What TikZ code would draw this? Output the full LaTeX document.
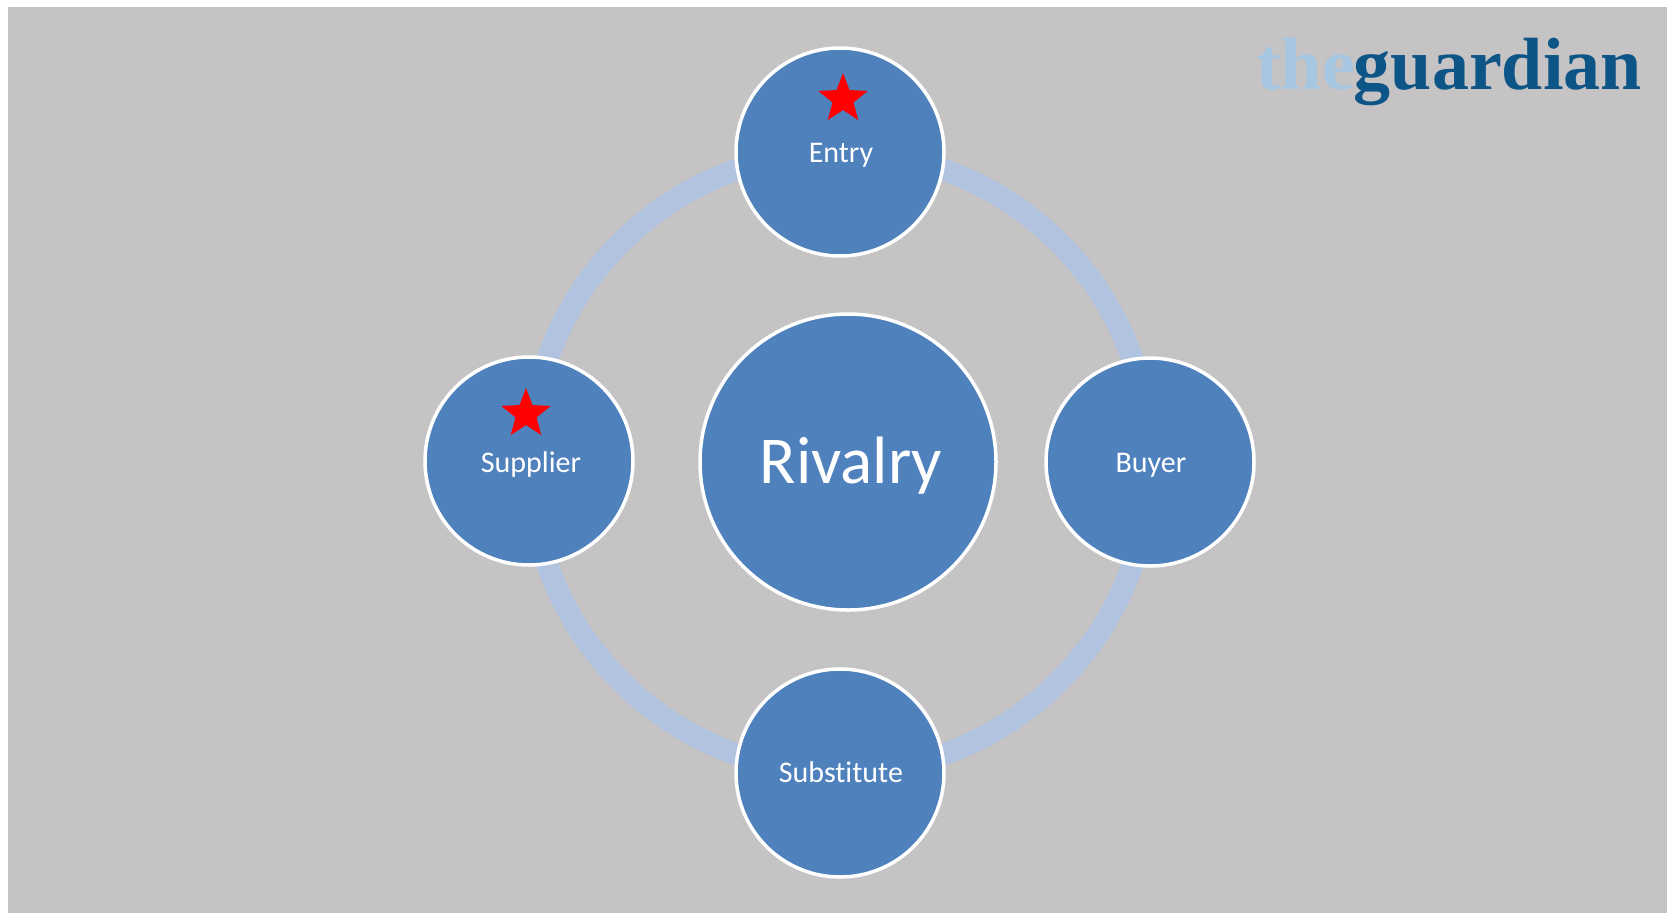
\documentclass[tikz,border=0pt]{standalone}
\usepackage{fontspec}
\setmainfont{Carlito}[Ligatures={NoCommon}, Contextuals={NoAlternate}]
\newfontfamily\logofont{Liberation Serif}
\usetikzlibrary{shapes.geometric}
\definecolor{bggray}{HTML}{C5C3C4}
\definecolor{ballblue}{HTML}{4F81BD}
\definecolor{ringblue}{HTML}{B1C3DE}
\definecolor{thelight}{HTML}{A6C6E1}
\definecolor{gdark}{HTML}{0D5587}
\tikzset{
  ball/.style={circle, fill=ballblue, draw=white, line width=3.5pt, inner sep=0pt, minimum size=#1},
  lbl/.style={text=white, font=\fontsize{30}{30}\selectfont, anchor=base, inner sep=0pt},
  redstar/.style={star, star points=5, star point ratio=2.35, fill=red, draw=none, inner sep=0pt, minimum size=52pt}
}
\begin{document}
\begin{tikzpicture}[x=1pt,y=-1pt]
\useasboundingbox (0,0) rectangle (1667,913);
\fill[white] (0,0) rectangle (1667,913);
\fill[bggray] (8,7) rectangle (1667,913);
% logo
\node[anchor=base west, inner sep=0pt, font=\logofont\bfseries\fontsize{74}{74}\selectfont] (logo) at (1256,89)
  {\textcolor{thelight}{the}\kern-1pt\textcolor{gdark}{guardian}};
% ring
\coordinate (hub) at (840,462);
\draw[ringblue, line width=22pt] (hub) circle[radius=310];
% circles
\node[ball=208pt] (entry) at (840,152) {};
\node[ball=208pt] (supplier) at (529,461) {};
\node[ball=208pt] (buyer) at (1150,462) {};
\node[ball=208pt] (substitute) at (840,773) {};
\node[ball=296pt] (rivalry) at (848,462) {};
% labels
\node[lbl] (entrylbl) at (841,162) {Entry};
\node[lbl] (supplierlbl) at (531,472) {Supplier};
\node[lbl] (buyerlbl) at (1151,472) {Buyer};
\node[lbl] (substitutelbl) at (841,782) {Subst\kern0pt itut\kern0pt e};
\node[lbl, font=\fontsize{67}{67}\selectfont] (rivalrylbl) at (851,483) {Rivalry};
% stars
\node[redstar] (entrystar) at (843,99) {};
\node[redstar] (supplierstar) at (526,414) {};
\end{tikzpicture}
\end{document}
